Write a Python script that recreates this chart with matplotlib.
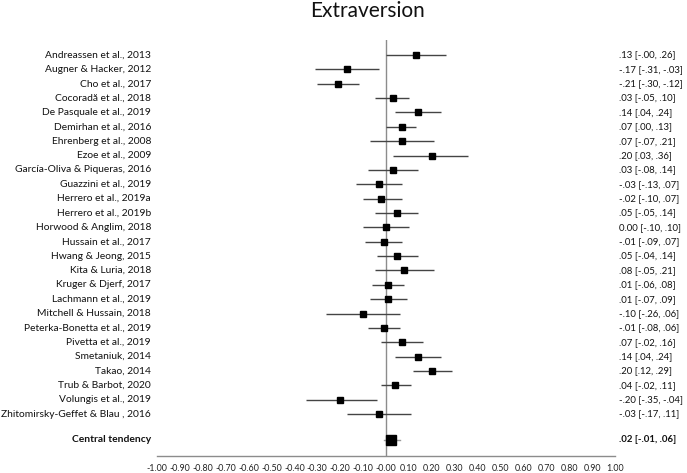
import matplotlib
matplotlib.use("Agg")
import matplotlib.pyplot as plt
import matplotlib.transforms as mtransforms
import numpy as np

plt.rcParams['font.family'] = ['Lato', 'DejaVu Sans']

studies = [
    "Andreassen et al., 2013", "Augner & Hacker, 2012", "Cho et al., 2017",
    "Cocoradă et al., 2018", "De Pasquale et al., 2019", "Demirhan et al., 2016",
    "Ehrenberg et al., 2008", "Ezoe et al., 2009", "García-Oliva & Piqueras, 2016",
    "Guazzini et al., 2019", "Herrero et al., 2019a", "Herrero et al., 2019b",
    "Horwood & Anglim, 2018", "Hussain et al., 2017", "Hwang & Jeong, 2015",
    "Kita & Luria, 2018", "Kruger & Djerf, 2017", "Lachmann et al., 2019",
    "Mitchell & Hussain, 2018", "Peterka-Bonetta et al., 2019", "Pivetta et al., 2019",
    "Smetaniuk, 2014", "Takao, 2014", "Trub & Barbot, 2020", "Volungis et al., 2019",
    "Zhitomirsky-Geffet & Blau , 2016",
]
effect = [0.13, -0.17, -0.21, 0.03, 0.14, 0.07, 0.07, 0.20, 0.03, -0.03, -0.02, 0.05,
          0.00, -0.01, 0.05, 0.08, 0.01, 0.01, -0.10, -0.01, 0.07, 0.14, 0.20, 0.04,
          -0.20, -0.03]
lower = [-0.00, -0.31, -0.30, -0.05, 0.04, 0.00, -0.07, 0.03, -0.08, -0.13, -0.10, -0.05,
         -0.10, -0.09, -0.04, -0.05, -0.06, -0.07, -0.26, -0.08, -0.02, 0.04, 0.12, -0.02,
         -0.35, -0.17]
upper = [0.26, -0.03, -0.12, 0.10, 0.24, 0.13, 0.21, 0.36, 0.14, 0.07, 0.07, 0.14,
         0.10, 0.07, 0.14, 0.21, 0.08, 0.09, 0.06, 0.06, 0.16, 0.24, 0.29, 0.11,
         -0.04, 0.11]
ci_labels = [
    ".13 [-.00, .26]", "-.17 [-.31, -.03]", "-.21 [-.30, -.12]", ".03 [-.05, .10]",
    ".14 [.04, .24]", ".07 [.00, .13]", ".07 [-.07, .21]", ".20 [.03, .36]",
    ".03 [-.08, .14]", "-.03 [-.13, .07]", "-.02 [-.10, .07]", ".05 [-.05, .14]",
    "0.00 [-.10, .10]", "-.01 [-.09, .07]", ".05 [-.04, .14]", ".08 [-.05, .21]",
    ".01 [-.06, .08]", ".01 [-.07, .09]", "-.10 [-.26, .06]", "-.01 [-.08, .06]",
    ".07 [-.02, .16]", ".14 [.04, .24]", ".20 [.12, .29]", ".04 [-.02, .11]",
    "-.20 [-.35, -.04]", "-.03 [-.17, .11]",
]
summary_name = "Central tendency"
summary_effect = 0.02
summary_lower = -0.01
summary_upper = 0.06
summary_label = ".02 [-.01, .06]"
xticks = np.round(np.arange(-1.0, 1.0001, 0.1), 2)

fig = plt.figure(figsize=(6.87, 4.73), dpi=100)
ax = fig.add_axes([157/687, 1 - 456/473, (615-157)/687, (456-40)/473])

pos = np.arange(len(studies))
summary_pos = 26.8

line_col = '#444444'
for y, e, lo, hi in zip(pos, effect, lower, upper):
    ax.plot([lo, hi], [y, y], color=line_col, lw=1.0, solid_capstyle='butt', zorder=2)
ax.plot(effect, pos, 's', color='black', ms=4.6, zorder=3)
ax.plot([summary_lower, summary_upper], [summary_pos, summary_pos], color='#9a9a9a',
        lw=1.0, zorder=2)
ax.plot([summary_effect], [summary_pos], 's', color='black', ms=6.5, zorder=3)

ax.axvline(0, color='#8c8c8c', lw=1.0, zorder=1)

ax.set_xlim(-1, 1)
ax.set_ylim(27.92, -1.045)
ax.set_xticks(xticks)
ax.set_xticklabels([f"{t:.2f}" for t in xticks], fontsize=6.4, color='#222222')
ax.tick_params(axis='x', length=0, pad=6)
ax.set_yticks([])
for s in ['top', 'left', 'right']:
    ax.spines[s].set_visible(False)
ax.spines['bottom'].set_color('#8c8c8c')
ax.spines['bottom'].set_linewidth(1.0)

fs_left = 7.4
fs_right = 6.9
trans = mtransforms.blended_transform_factory(fig.transFigure, ax.transData)
for y, name, lab in zip(pos, studies, ci_labels):
    ax.text(151/687, y, name, transform=trans, ha='right', va='center',
            fontsize=fs_left, color='#111111', clip_on=False)
    ax.text(619/687, y, lab, transform=trans, ha='left', va='center',
            fontsize=fs_right, color='#111111', clip_on=False)
ax.text(151/687, summary_pos, summary_name, transform=trans, ha='right', va='center',
        fontsize=fs_left, fontweight='bold', color='#111111', clip_on=False)
ax.text(619/687, summary_pos, summary_label, transform=trans, ha='left', va='center',
        fontsize=fs_right, fontweight='bold', color='#111111', clip_on=False)

fig.text(368/687, 1 - 11/473, "Extraversion", ha='center', va='center', fontsize=15,
         color='#111111')

fig.savefig("out.png", dpi=100)
